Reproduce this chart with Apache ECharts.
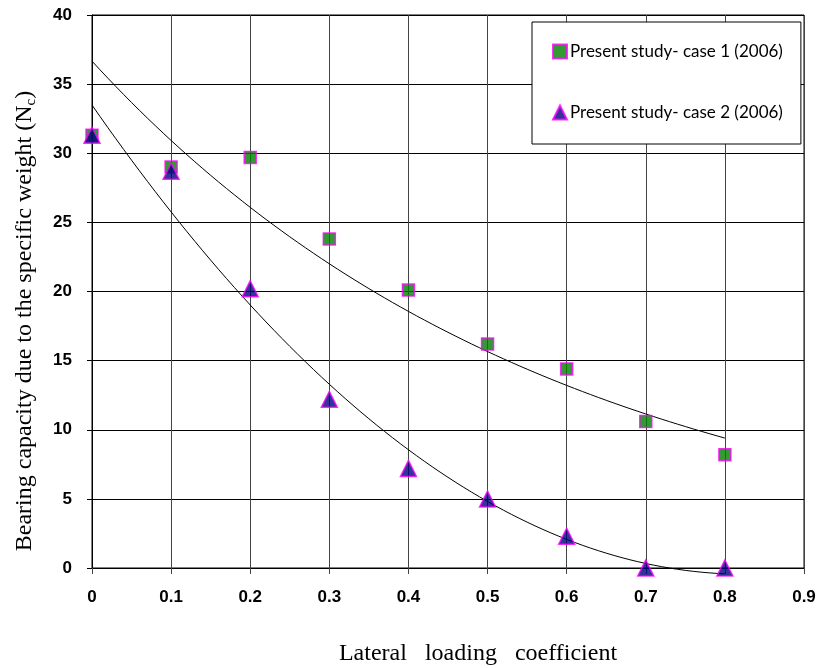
<!DOCTYPE html>
<html>
<head>
<meta charset="utf-8">
<script src="https://cdn.jsdelivr.net/npm/echarts@6/dist/echarts.min.js"></script>
<style>
  html, body { margin: 0; padding: 0; background: #fff; }
  #chart { width: 819px; height: 668px; }
</style>
</head>
<body>
<div id="chart"></div>
<script>
// lateral loading coefficient
let xValues = [0, 0.1, 0.2, 0.3, 0.4, 0.5, 0.6, 0.7, 0.8];
// case 1 and case 2 bearing capacity Nc
let case1 = [31.3, 29.0, 29.7, 23.8, 20.1, 16.2, 14.4, 10.6, 8.2];
let case2 = [31.3, 28.7, 20.2, 12.2, 7.2, 5.0, 2.3, 0.0, 0.0];
let legendNames = ['Present study- case 1 (2006)', 'Present study- case 2 (2006)'];

// excel-like trendlines: exponential for case 1, polynomial (order 2) for case 2
function fitExp(xs, ys) {
    let n = xs.length, sx = 0, sy = 0, sxx = 0, sxy = 0;
    for (let i = 0; i < n; i++) {
        let ly = Math.log(ys[i]);
        sx += xs[i]; sy += ly; sxx += xs[i] * xs[i]; sxy += xs[i] * ly;
    }
    let b = (n * sxy - sx * sy) / (n * sxx - sx * sx);
    let a = (sy - b * sx) / n;
    return x => Math.exp(a + b * x);
}

function fitPoly2(xs, ys) {
    // normal equations 3x3
    let s = [0, 0, 0, 0, 0], t = [0, 0, 0];
    for (let i = 0; i < xs.length; i++) {
        let p = 1;
        for (let k = 0; k < 5; k++) { s[k] += p; p *= xs[i]; }
        t[0] += ys[i]; t[1] += ys[i] * xs[i]; t[2] += ys[i] * xs[i] * xs[i];
    }
    let m = [[s[0], s[1], s[2], t[0]], [s[1], s[2], s[3], t[1]], [s[2], s[3], s[4], t[2]]];
    for (let c = 0; c < 3; c++) {
        for (let r = c + 1; r < 3; r++) {
            let f = m[r][c] / m[c][c];
            for (let k = c; k < 4; k++) m[r][k] -= f * m[c][k];
        }
    }
    let coef = [0, 0, 0];
    for (let r = 2; r >= 0; r--) {
        let v = m[r][3];
        for (let k = r + 1; k < 3; k++) v -= m[r][k] * coef[k];
        coef[r] = v / m[r][r];
    }
    return x => coef[0] + coef[1] * x + coef[2] * x * x;
}

function sampleCurve(fn) {
    let pts = [];
    for (let i = 0; i <= 80; i++) {
        let x = i * 0.01;
        pts.push([x, fn(x)]);
    }
    return pts;
}

let trend1 = sampleCurve(fitExp(xValues, case1));
let trend2 = sampleCurve(fitPoly2(xValues, case2));

let chart = echarts.init(document.getElementById('chart'));

let option = {
    animation: false,
    backgroundColor: '#fff',
    grid: {
        left: 92,
        right: 15,
        top: 15,
        bottom: 100,
        outerBoundsMode: 'none',
        containLabel: false,
        show: true,
        borderColor: '#000',
        borderWidth: 1
    },
    legend: {
        data: legendNames,
        orient: 'vertical',
        left: 532,
        top: 22,
        padding: [21, 18, 23, 20],
        itemGap: 44,
        itemWidth: 14,
        itemHeight: 14,
        borderColor: '#000',
        borderWidth: 1,
        backgroundColor: '#fff',
        textStyle: {
            fontFamily: 'Lato',
            fontSize: 17,
            color: '#000',
            padding: [0, 0, 0, -2]
        }
    },
    xAxis: {
        type: 'value',
        min: 0,
        max: 0.9,
        interval: 0.1,
        axisLine: { lineStyle: { color: '#000' } },
        axisTick: { show: true, length: 6, lineStyle: { color: '#444' } },
        axisLabel: {
            margin: 21,
            color: '#000',
            fontFamily: 'Liberation Sans',
            fontWeight: 'bold',
            fontSize: 17,
            formatter: v => (Math.round(v * 10) / 10).toString()
        },
        splitLine: { show: true, lineStyle: { color: '#444', width: 1 } }
    },
    yAxis: {
        type: 'value',
        min: 0,
        max: 40,
        interval: 5,
        axisLine: { show: true, lineStyle: { color: '#000' } },
        axisTick: { show: true, length: 5, lineStyle: { color: '#000' } },
        axisLabel: {
            margin: 20,
            color: '#000',
            fontFamily: 'Liberation Sans',
            fontWeight: 'bold',
            fontSize: 17
        },
        splitLine: { show: true, lineStyle: { color: '#000', width: 1 } }
    },
    graphic: [
        {
            type: 'text',
            x: 478,
            y: 654,
            style: {
                text: 'Lateral   loading   coefficient',
                fontFamily: 'Liberation Serif',
                fontSize: 24,
                fill: '#000',
                textAlign: 'center',
                textVerticalAlign: 'middle'
            }
        },
        {
            type: 'text',
            x: 25,
            y: 321,
            rotation: Math.PI / 2,
            style: {
                text: 'Bearing capacity due to the specific weight (N{sub|c})',
                fontFamily: 'Liberation Serif',
                fontSize: 24,
                fill: '#000',
                align: 'center',
                verticalAlign: 'middle',
                rich: {
                    sub: {
                        fontFamily: 'Liberation Serif',
                        fontSize: 15,
                        fill: '#000',
                        padding: [12, 0, 0, 0]
                    }
                }
            }
        }
    ],
    series: [
        {
            type: 'line',
            data: trend1,
            showSymbol: false,
            symbol: 'none',
            lineStyle: { color: '#000', width: 1 },
            silent: true,
            z: 2
        },
        {
            type: 'line',
            data: trend2,
            showSymbol: false,
            symbol: 'none',
            clip: false,
            lineStyle: { color: '#000', width: 1 },
            silent: true,
            z: 2
        },
        {
            name: legendNames[0],
            type: 'scatter',
            data: xValues.map((x, i) => [x, case1[i]]),
            symbol: 'rect',
            symbolSize: 12,
            itemStyle: { color: '#008000', borderColor: '#ff00ff', borderWidth: 1.5 },
            z: 3
        },
        {
            name: legendNames[1],
            type: 'scatter',
            data: xValues.map((x, i) => [x, case2[i]]),
            symbol: 'triangle',
            symbolSize: [16, 16],
            itemStyle: { color: '#000080', borderColor: '#ff00ff', borderWidth: 1.5 },
            z: 4
        }
    ]
};

chart.setOption(option);
</script>
</body>
</html>
